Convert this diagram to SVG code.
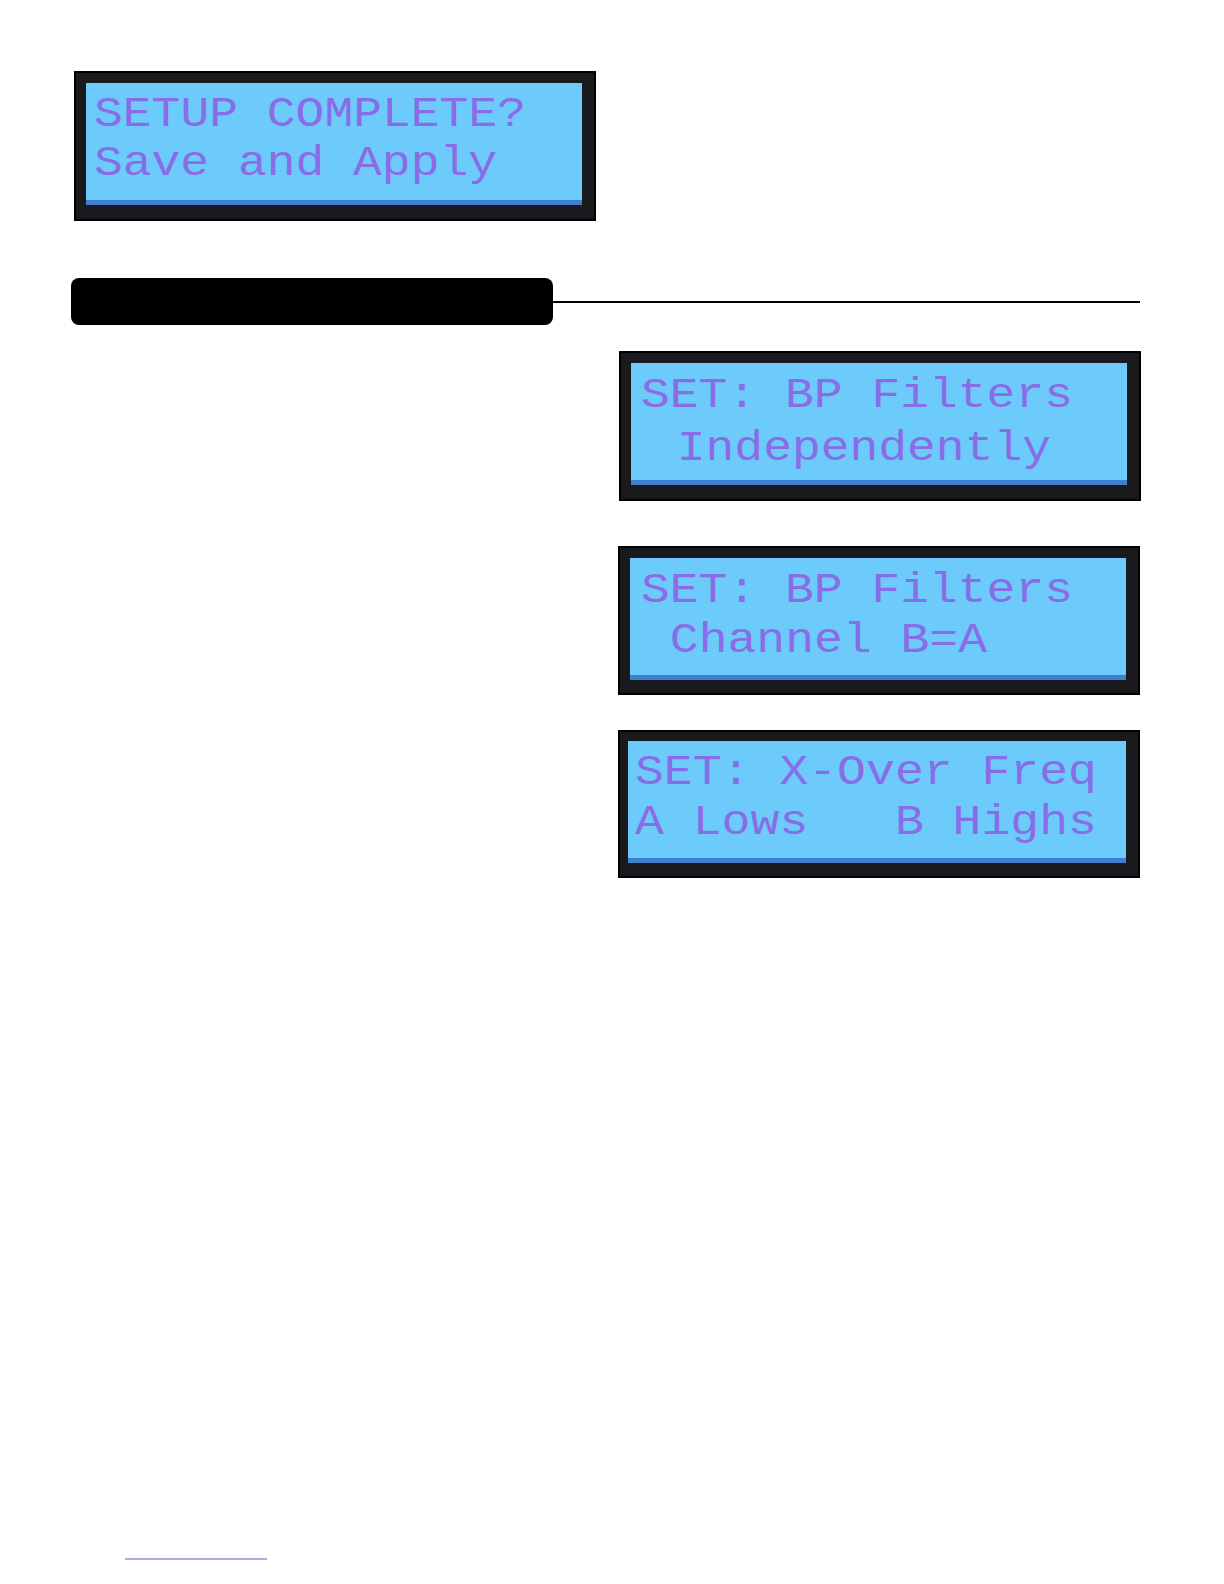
<svg xmlns="http://www.w3.org/2000/svg" width="1224" height="1584" viewBox="0 0 1224 1584">
<style>
.frame{fill:#1a1a1e;stroke:#000;stroke-width:2}
.scr{fill:#6ccbfa}
.bot{fill:#3f7fd0}
.t{font-family:"Liberation Mono",monospace;font-size:42px;fill:#8c63e6;white-space:pre;opacity:0.9}
</style>
<rect width="1224" height="1584" fill="#fff"/>
<g id="lcd1">
<rect class="frame" x="75" y="72" width="520" height="148"/>
<rect class="scr" x="86" y="83" width="496" height="122"/>
<rect class="bot" x="86" y="200" width="496" height="5"/>
<text class="t" x="94" y="126" textLength="432" lengthAdjust="spacingAndGlyphs">SETUP COMPLETE?</text>
<text class="t" x="94" y="175" textLength="403" lengthAdjust="spacingAndGlyphs">Save and Apply</text>
</g>
<g id="header">
<rect x="71" y="278" width="482" height="47" rx="8" fill="#000"/>
<line x1="553" y1="302" x2="1140" y2="302" stroke="#000" stroke-width="2"/>
</g>
<g id="lcd2">
<rect class="frame" x="620" y="352" width="520" height="148"/>
<rect class="scr" x="631" y="363" width="496" height="122"/>
<rect class="bot" x="631" y="480" width="496" height="5"/>
<text class="t" x="641" y="407" textLength="432" lengthAdjust="spacingAndGlyphs">SET: BP Filters</text>
<text class="t" x="648" y="460" textLength="403" lengthAdjust="spacingAndGlyphs"> Independently</text>
</g>
<g id="lcd3">
<rect class="frame" x="619" y="547" width="520" height="147"/>
<rect class="scr" x="630" y="558" width="496" height="122"/>
<rect class="bot" x="630" y="675" width="496" height="5"/>
<text class="t" x="641" y="602" textLength="432" lengthAdjust="spacingAndGlyphs">SET: BP Filters</text>
<text class="t" x="641" y="652" textLength="346" lengthAdjust="spacingAndGlyphs"> Channel B=A</text>
</g>
<g id="lcd4">
<rect class="frame" x="619" y="731" width="520" height="146"/>
<rect class="scr" x="628" y="741" width="498" height="122"/>
<rect class="bot" x="628" y="858" width="498" height="5"/>
<text class="t" x="635" y="784" textLength="462" lengthAdjust="spacingAndGlyphs">SET: X-Over Freq</text>
<text class="t" x="635" y="834" textLength="462" lengthAdjust="spacingAndGlyphs">A Lows   B Highs</text>
</g>
<line x1="125" y1="1559" x2="267" y2="1559" stroke="#4a5bd8" stroke-width="1"/>
</svg>
